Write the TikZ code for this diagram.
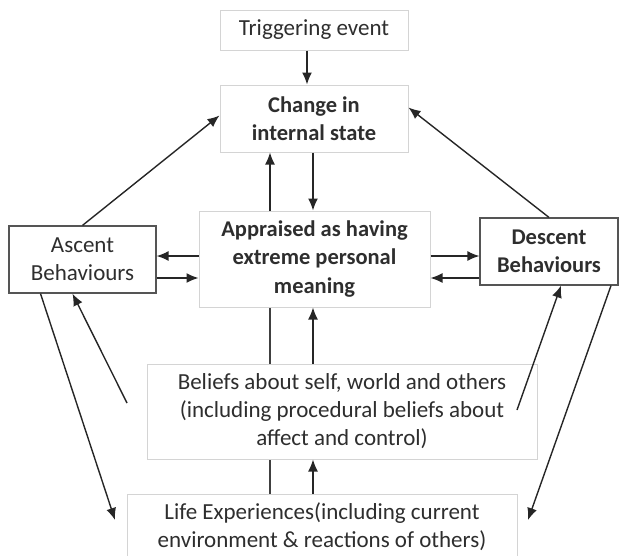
\documentclass[tikz,border=0pt]{standalone}
\usepackage{fontspec}
\setmainfont{Carlito}
\usepackage{tikz}
\usetikzlibrary{arrows.meta,calc}
\definecolor{paleline}{HTML}{D4D4D4}
\definecolor{darkline}{HTML}{555555}
\definecolor{txtgray}{HTML}{2E2E2E}

\begin{document}
\begin{tikzpicture}[x=1pt,y=-1pt,>={Latex[length=12pt,width=10pt]},
  palebox/.style={draw=paleline,line width=1pt,fill=white,align=center,text=txtgray,inner sep=0pt,font=\fontsize{23}{28}\selectfont},
  darkbox/.style={palebox,draw=darkline,line width=1.2pt},
  boldtext/.style={font=\fontsize{22.5}{28.5}\selectfont\bfseries},
  arr/.style={->,line width=1.4pt,draw=black!85},
  plain/.style={line width=1.2pt,draw=black!75}]
\clip (0,0) rectangle (619,555);

% boxes
\node[palebox,minimum width=188pt,minimum height=40pt] (trigger) at (314,30) {Triggering event};
\node[palebox,boldtext,minimum width=188pt,minimum height=67pt] (change) at (314,118.5) {Change in\\internal state};
\node[palebox,boldtext,minimum width=231pt,minimum height=96pt] (appraised) at (314.5,259) {Appraised as having\\extreme personal\\meaning};
\node[darkbox,minimum width=147pt,minimum height=67pt] (ascent) at (82.5,259.5) {Ascent\\Behaviours};
\node[darkbox,boldtext,minimum width=138pt,minimum height=67pt] (descent) at (549,251.5) {Descent\\Behaviours};
\node[palebox,minimum width=390pt,minimum height=95pt] (beliefs) at (342,411.5) {Beliefs about self, world and others\\(including procedural beliefs about\\affect and control)};
\node[palebox,minimum width=390pt,minimum height=66pt] (life) at (322,527) {Life Experiences(including current\\environment \& reactions of others)};

% helper coordinates
\coordinate (cl) at (270,0);
\coordinate (cr) at (313,0);
\coordinate (ru) at (0,256);
\coordinate (rd) at (0,278);
\coordinate (la) at (115,520);
\coordinate (lr) at (528,520);
\coordinate (bl) at (127,403);
\coordinate (br) at (517,410);

% vertical links
\draw[arr] ([xshift=-7pt]trigger.south) -- ([xshift=-7pt]change.north);
\draw[arr] (change.south -| cr) -- (appraised.north -| cr);
\draw[arr] (appraised.north -| cl) -- (change.south -| cl);
\draw[plain] (beliefs.north -| cl) -- (appraised.south -| cl);
\draw[arr] (beliefs.north -| cr) -- (appraised.south -| cr);
\draw[plain] (life.north -| cl) -- (beliefs.south -| cl);
\draw[arr] (life.north -| cr) -- (beliefs.south -| cr);

% side links
\draw[arr] (appraised.west |- ru) -- (ascent.east |- ru);
\draw[arr] (ascent.east |- rd) -- (appraised.west |- rd);
\draw[arr] (appraised.east |- ru) -- (descent.west |- ru);
\draw[arr] (descent.west |- rd) -- (appraised.east |- rd);

% diagonals
\draw[arr] (ascent.north) -- ([yshift=3pt]change.west);
\draw[arr] (descent.north) -- ([yshift=11pt]change.east);
\draw[arr] ([xshift=-42pt]ascent.south) -- (la);
\draw[arr] (bl) -- ([xshift=-10pt]ascent.south);
\draw[arr] (br) -- ([xshift=12pt]descent.south);
\draw[arr] ([xshift=62pt]descent.south) -- (lr);
\end{tikzpicture}
\end{document}
